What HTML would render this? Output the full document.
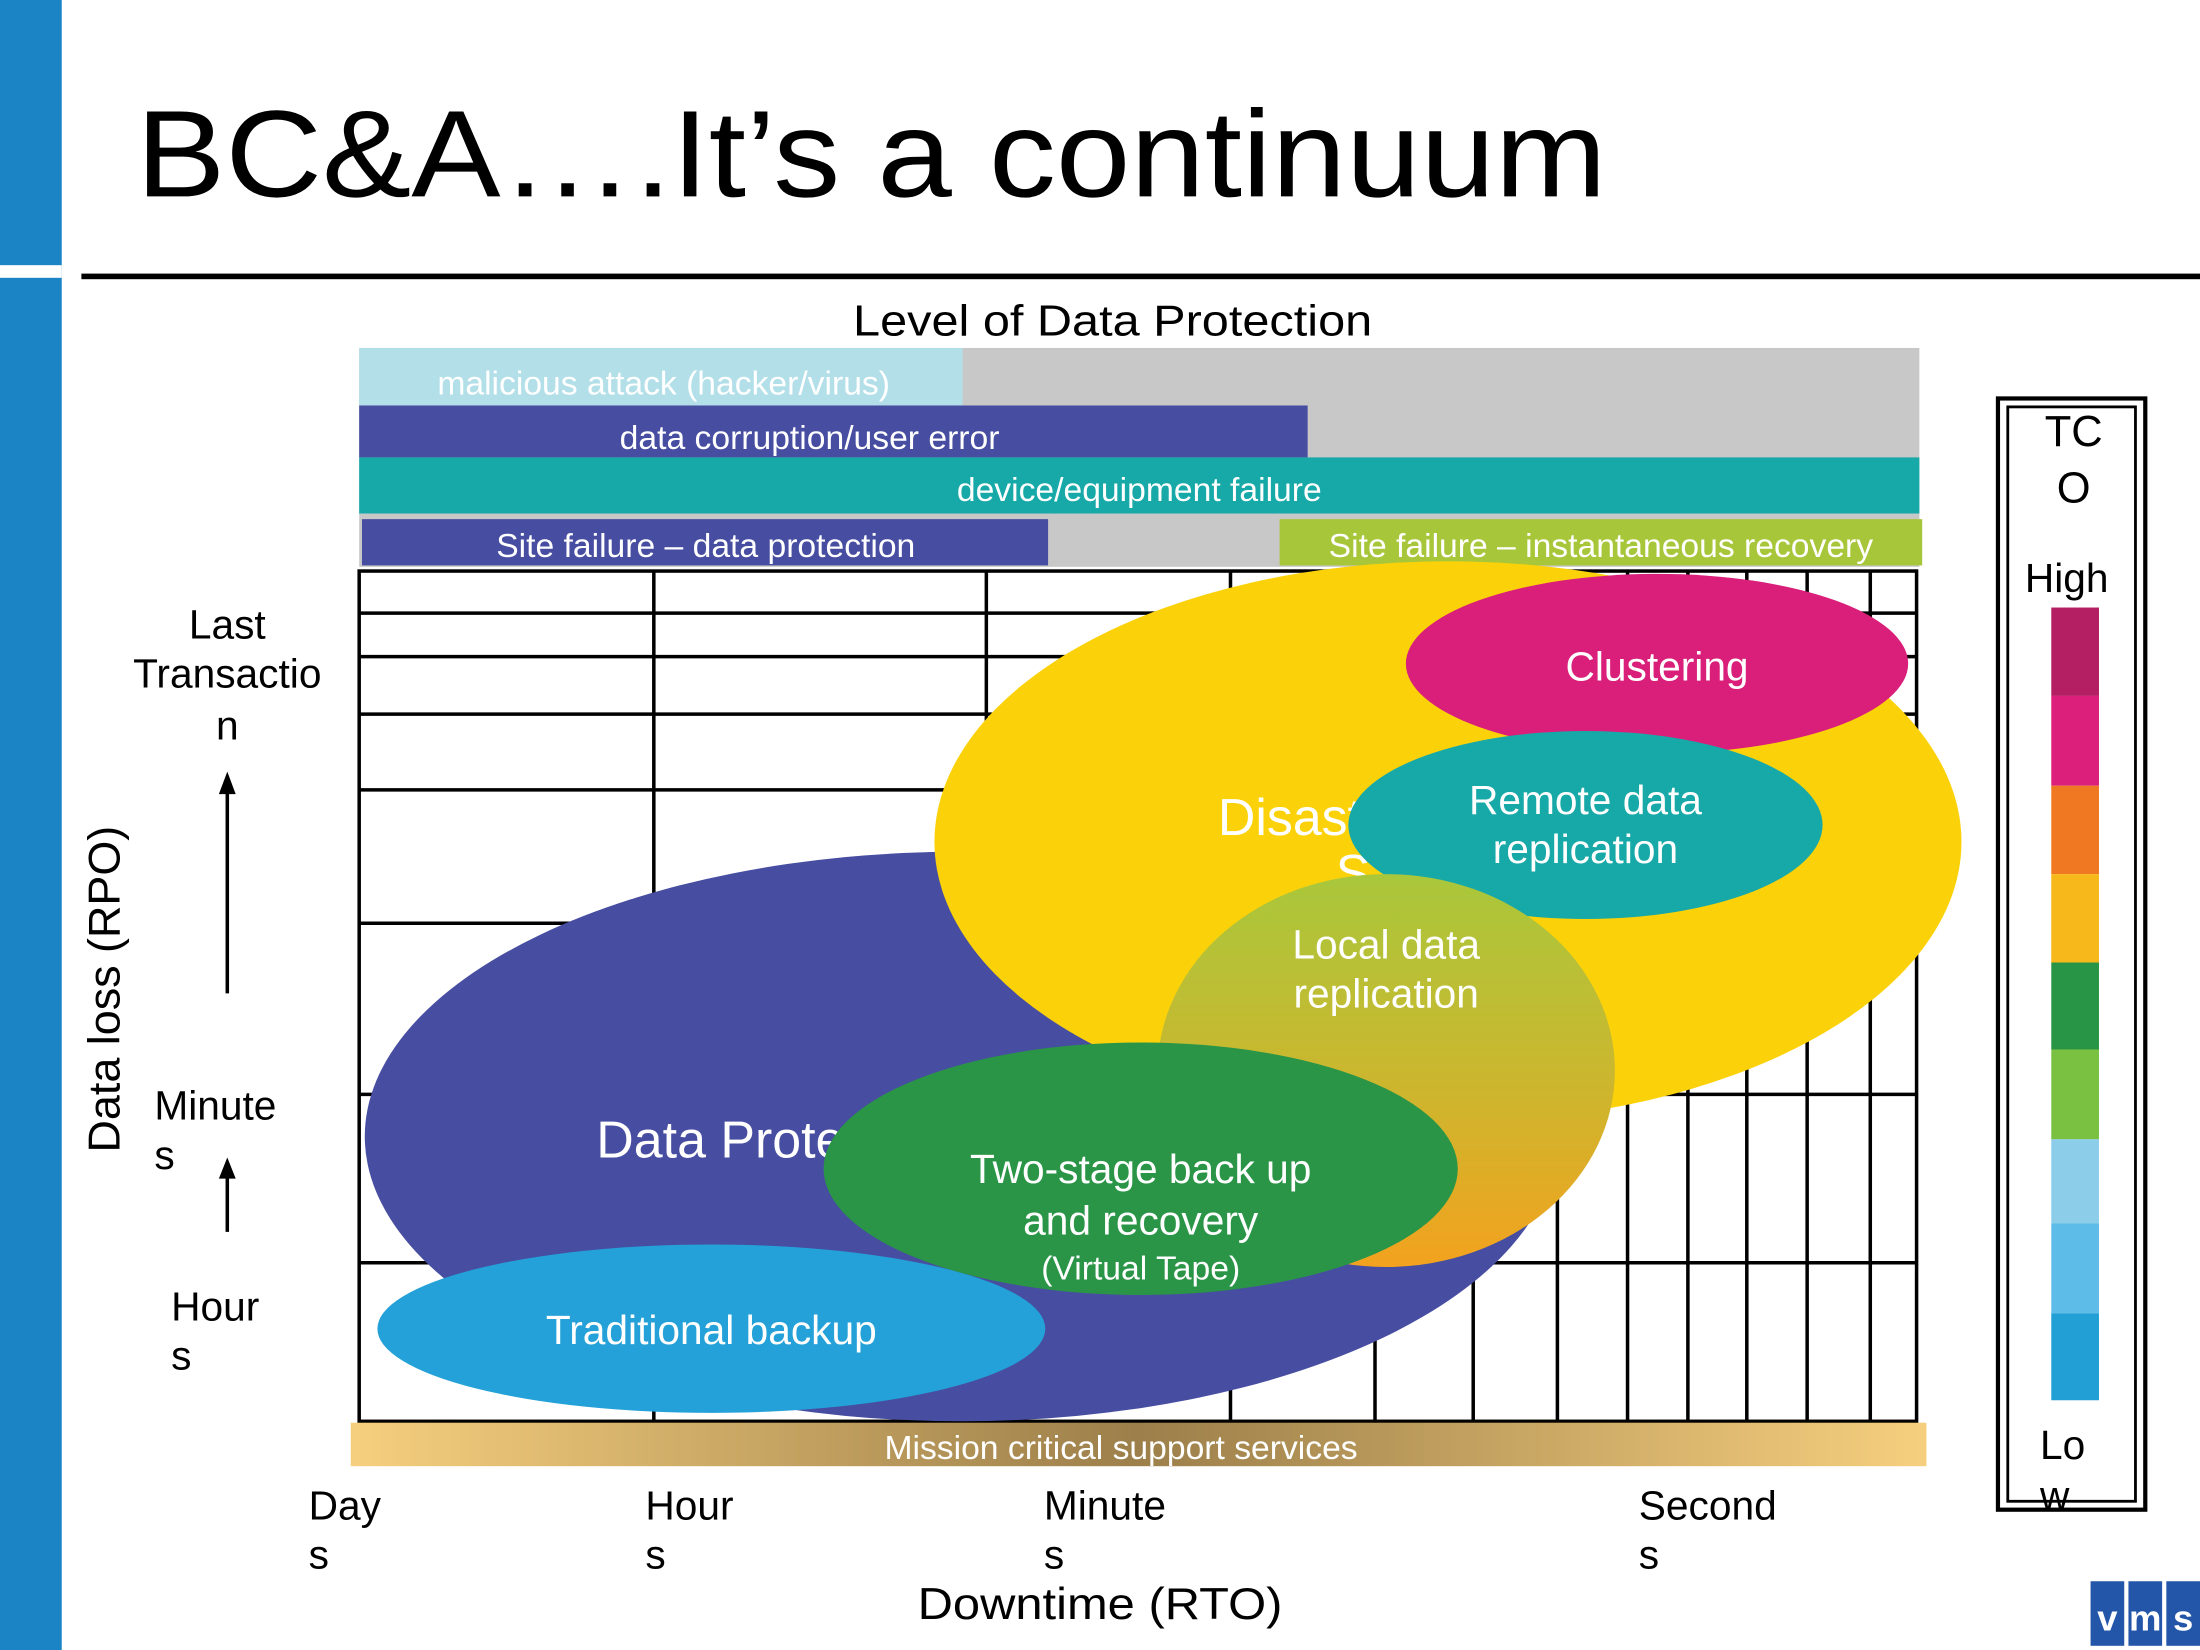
<!DOCTYPE html>
<html><head><meta charset="utf-8"><style>
html,body{margin:0;padding:0;background:#fff;}
svg{display:block;}
text{font-family:"Liberation Sans",Arial,sans-serif;}
</style></head><body>
<svg width="2200" height="1650" viewBox="0 0 1568 1176" xmlns="http://www.w3.org/2000/svg">
<defs>
<linearGradient id="loc" x1="0" y1="0" x2="0" y2="1">
<stop offset="0" stop-color="#a9c73b"/><stop offset="0.55" stop-color="#cdb62e"/><stop offset="1" stop-color="#f3a21e"/>
</linearGradient>
<linearGradient id="mis" x1="0" y1="0" x2="1" y2="0">
<stop offset="0" stop-color="#f6cf7e"/><stop offset="0.5" stop-color="#9c7f4a"/><stop offset="1" stop-color="#f6cf7e"/>
</linearGradient>
</defs>
<rect x="0" y="0" width="44" height="1176" fill="#1b84c4"/>
<rect x="0" y="189" width="44" height="9" fill="#fff"/>
<text x="97" y="140" font-size="88" fill="#000" textLength="1048" lengthAdjust="spacingAndGlyphs">BC&amp;A….It’s a continuum</text>
<rect x="58" y="195" width="1510" height="4" fill="#000"/>
<text x="608" y="239" font-size="31" textLength="370" lengthAdjust="spacingAndGlyphs">Level of Data Protection</text>
<rect x="256" y="248" width="1112" height="156" fill="#c8c8c8"/>
<rect x="256" y="248" width="430" height="41" fill="#b3dfe9"/>
<text x="473" y="281" font-size="24" fill="#fff" text-anchor="middle">malicious attack (hacker/virus)</text>
<rect x="256" y="289" width="676" height="37" fill="#474da0"/>
<text x="577" y="320" font-size="24" fill="#fff" text-anchor="middle">data corruption/user error</text>
<rect x="256" y="326" width="1112" height="40" fill="#17a8a8"/>
<text x="812" y="357" font-size="24" fill="#fff" text-anchor="middle">device/equipment failure</text>
<rect x="258" y="370" width="489" height="33" fill="#474da0"/>
<text x="503" y="397" font-size="24" fill="#fff" text-anchor="middle">Site failure – data protection</text>
<rect x="912" y="370" width="458" height="33" fill="#a8c63a"/>
<text x="1141" y="397" font-size="24" fill="#fff" text-anchor="middle">Site failure – instantaneous recovery</text>
<g stroke="#000" stroke-width="2.5" fill="none">
<rect x="256" y="407" width="1110" height="606"/>
<line x1="256" y1="437" x2="1366" y2="437"/><line x1="256" y1="468" x2="1366" y2="468"/>
<line x1="256" y1="509" x2="1366" y2="509"/><line x1="256" y1="563" x2="1366" y2="563"/>
<line x1="256" y1="658" x2="1366" y2="658"/><line x1="256" y1="780" x2="1366" y2="780"/>
<line x1="256" y1="900" x2="1366" y2="900"/>
<line x1="466" y1="407" x2="466" y2="1013"/><line x1="703" y1="407" x2="703" y2="1013"/>
<line x1="877" y1="407" x2="877" y2="1013"/><line x1="980" y1="407" x2="980" y2="1013"/>
<line x1="1050" y1="407" x2="1050" y2="1013"/><line x1="1110" y1="407" x2="1110" y2="1013"/>
<line x1="1160" y1="407" x2="1160" y2="1013"/><line x1="1203" y1="407" x2="1203" y2="1013"/>
<line x1="1245" y1="407" x2="1245" y2="1013"/><line x1="1288" y1="407" x2="1288" y2="1013"/>
<line x1="1333" y1="407" x2="1333" y2="1013"/>
</g>
<ellipse cx="685" cy="810" rx="425" ry="203" fill="#474da0"/>
<text x="425" y="825" font-size="37" fill="#fff">Data Protection</text>
<ellipse cx="1032" cy="600" rx="366" ry="200" fill="#fbd20a"/>
<text x="868" y="595" font-size="37" fill="#fff">Disaster</text>
<text x="952" y="635" font-size="37" fill="#fff">S</text>
<ellipse cx="1181" cy="473" rx="179" ry="64" fill="#d91f7a"/>
<text x="1181" y="485" font-size="29" fill="#fff" text-anchor="middle">Clustering</text>
<ellipse cx="1130" cy="588" rx="169" ry="67" fill="#17a8a8"/>
<text x="1130" y="580" font-size="29" fill="#fff" text-anchor="middle">Remote data</text>
<text x="1130" y="615" font-size="29" fill="#fff" text-anchor="middle">replication</text>
<ellipse cx="988" cy="763" rx="163" ry="140" fill="url(#loc)"/>
<text x="988" y="683" font-size="29" fill="#fff" text-anchor="middle">Local data</text>
<text x="988" y="718" font-size="29" fill="#fff" text-anchor="middle">replication</text>
<ellipse cx="813" cy="833" rx="226" ry="90" fill="#2a9547"/>
<text x="813" y="843" font-size="29" fill="#fff" text-anchor="middle">Two-stage back up</text>
<text x="813" y="880" font-size="29" fill="#fff" text-anchor="middle">and recovery</text>
<text x="813" y="912" font-size="24" fill="#fff" text-anchor="middle">(Virtual Tape)</text>
<ellipse cx="507" cy="947" rx="238" ry="60" fill="#24a1d8"/>
<text x="507" y="958" font-size="29" fill="#fff" text-anchor="middle">Traditional backup</text>
<rect x="250" y="1014" width="1123" height="31" fill="url(#mis)"/>
<text x="799" y="1040" font-size="24" fill="#fff" text-anchor="middle">Mission critical support services</text>
<g font-size="29" fill="#000">
<text x="162" y="455" text-anchor="middle">Last</text>
<text x="162" y="490" text-anchor="middle">Transactio</text>
<text x="162" y="527" text-anchor="middle">n</text>
<text x="110" y="798">Minute</text><text x="110" y="833">s</text>
<text x="122" y="941">Hour</text><text x="122" y="976">s</text>
<text x="220" y="1083">Day</text><text x="220" y="1118">s</text>
<text x="460" y="1083">Hour</text><text x="460" y="1118">s</text>
<text x="744" y="1083">Minute</text><text x="744" y="1118">s</text>
<text x="1168" y="1083">Second</text><text x="1168" y="1118">s</text>
<text x="654" y="1154" font-size="32" textLength="260" lengthAdjust="spacingAndGlyphs">Downtime (RTO)</text>
<text transform="translate(85,705) rotate(-90)" font-size="32" text-anchor="middle">Data loss (RPO)</text>
</g>
<g stroke="#000" stroke-width="2.5">
<line x1="162" y1="562" x2="162" y2="708"/><line x1="162" y1="836" x2="162" y2="878"/>
</g>
<polygon points="156,566 168,566 162,550" fill="#000"/>
<polygon points="156,840 168,840 162,825" fill="#000"/>
<rect x="1424" y="284" width="105" height="792" fill="none" stroke="#000" stroke-width="3"/>
<rect x="1431" y="290" width="91" height="780" fill="none" stroke="#000" stroke-width="2"/>
<text x="1478" y="318" font-size="31" text-anchor="middle">TC</text>
<text x="1478" y="358" font-size="31" text-anchor="middle">O</text>
<text x="1473" y="422" font-size="29" text-anchor="middle">High</text>
<rect x="1462" y="433" width="34" height="63" fill="#b41f64"/>
<rect x="1462" y="496" width="34" height="64" fill="#db1f7b"/>
<rect x="1462" y="560" width="34" height="63" fill="#f07822"/>
<rect x="1462" y="623" width="34" height="63" fill="#f6b81a"/>
<rect x="1462" y="686" width="34" height="62" fill="#289546"/>
<rect x="1462" y="748" width="34" height="64" fill="#7ac142"/>
<rect x="1462" y="812" width="34" height="60" fill="#8ccdea"/>
<rect x="1462" y="872" width="34" height="64" fill="#5dbde8"/>
<rect x="1462" y="936" width="34" height="62" fill="#22a0d6"/>
<text x="1454" y="1040" font-size="29">Lo</text>
<text x="1454" y="1076" font-size="29">w</text>
<rect x="1490" y="1127" width="24" height="46" fill="#2356a8"/>
<rect x="1517" y="1127" width="24" height="46" fill="#2356a8"/>
<rect x="1544" y="1127" width="24" height="46" fill="#2356a8"/>
<text x="1502" y="1162" font-size="26" font-weight="bold" fill="#fff" text-anchor="middle">v</text>
<text x="1529" y="1162" font-size="26" font-weight="bold" fill="#fff" text-anchor="middle">m</text>
<text x="1556" y="1162" font-size="26" font-weight="bold" fill="#fff" text-anchor="middle">s</text>
</svg>
</body></html>
